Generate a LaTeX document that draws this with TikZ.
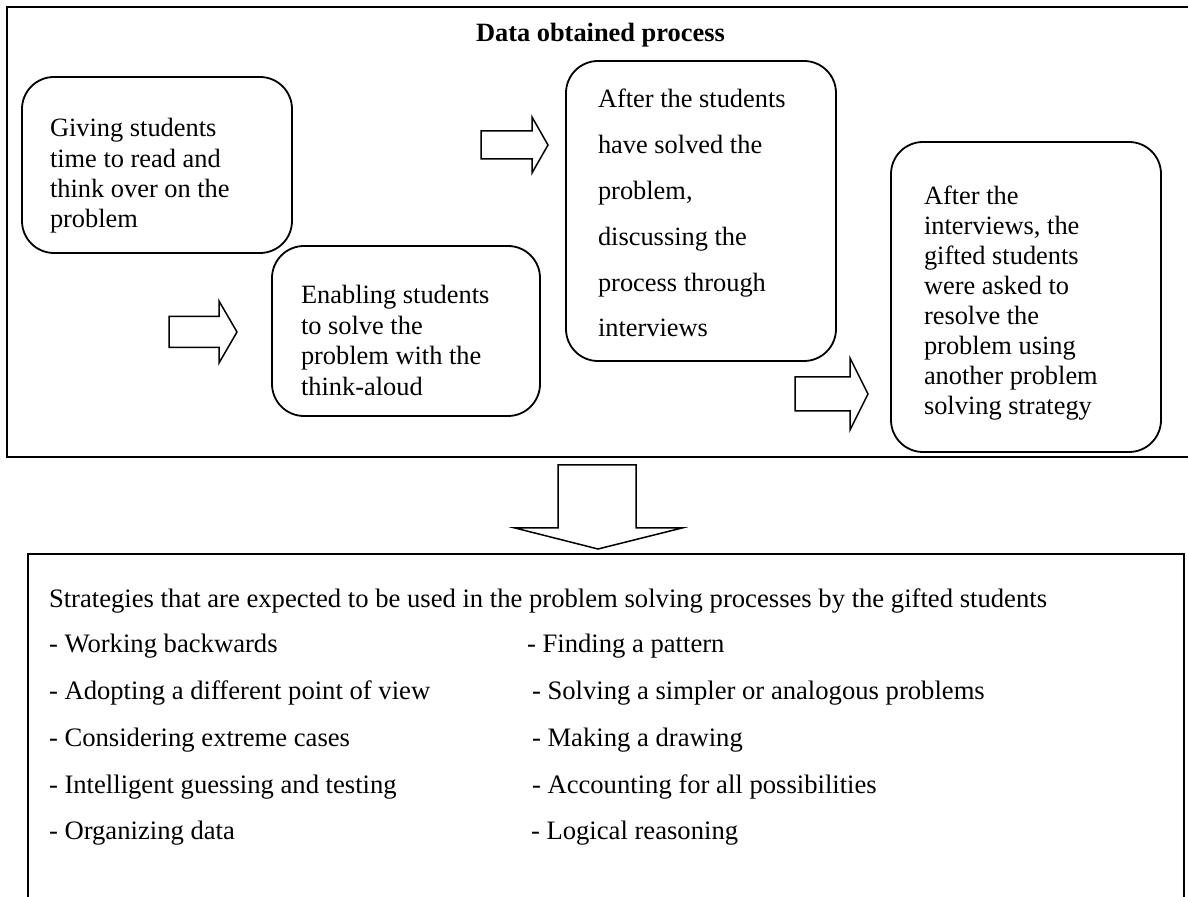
\documentclass[tikz,border=0pt]{standalone}
\usepackage{fontspec}
\setmainfont{Liberation Serif}
\newcommand\myarrowR[6]{% x0, x1 (head base), x2 (tip), yc, half shaft, half head
  \draw[barrow] (#1,{#4-#5}) -- (#2,{#4-#5}) -- (#2,{#4-#6}) -- (#3,#4) -- (#2,{#4+#6}) -- (#2,{#4+#5}) -- (#1,{#4+#5}) -- cycle;}
\newcommand\txtlines[2]{\vtop{\baselineskip=#1\lineskiplimit=-20pt\lineskip=0pt #2}}
\begin{document}
\begin{tikzpicture}[x=0.5pt,y=-0.5pt,
  txt/.style={inner sep=0pt,outer sep=0pt,anchor=base west,font=\fontsize{13.2pt}{15.2pt}\selectfont},
  btxt/.style={txt,font=\fontsize{13.32pt}{15.2pt}\selectfont},
  rbox/.style={draw,line width=0.9pt,rounded corners=16pt,inner sep=0pt},
  barrow/.style={draw,line width=0.75pt,line join=miter},
  frame/.style={draw,line width=1.3pt}]
\useasboundingbox (0,0) rectangle (1188,897);
% outer frame (top)
\draw[frame] (1188,7) -- (7,7) -- (7,457) -- (1188,457);
\node[txt,font=\fontsize{13.2pt}{15.2pt}\selectfont\bfseries] (title) at (476,42) {Data obtained process};
% rounded boxes
\node[rbox,minimum width=135pt,minimum height=88pt] (b1) at (157,165) {};
\node[rbox,minimum width=134pt,minimum height=85pt] (b2) at (406,331) {};
\node[rbox,minimum width=135pt,minimum height=150pt] (b3) at (701,211) {};
\node[rbox,minimum width=135pt,minimum height=155pt] (b4) at (1026,297) {};
% texts
\node[txt] (t1) at (50,137) {\txtlines{15.15pt}{\hbox{Giving students}\hbox{time to read and}\hbox{think over on the}\hbox{problem}}};
\node[txt] (t2) at (301,304) {\txtlines{15.2pt}{\hbox{Enabling students}\hbox{to solve the}\hbox{problem with the}\hbox{think-aloud}}};
\node[txt] (t3) at (598,108) {\txtlines{22.9pt}{\hbox{After the students}\hbox{have solved the}\hbox{problem,}\hbox{discussing the}\hbox{process through}\hbox{interviews}}};
\node[txt] (t4) at (924,205) {\txtlines{15pt}{\hbox{After the}\hbox{interviews, the}\hbox{gifted students}\hbox{were asked to}\hbox{resolve the}\hbox{problem using}\hbox{another problem}\hbox{solving strategy}}};
% block arrows
\myarrowR{169}{219}{237}{332}{15.5}{31}
\myarrowR{481}{532}{548}{145}{14}{28}
\myarrowR{795}{850}{868}{394}{17}{36}
% down arrow
\draw[barrow] (558,465) -- (636,465) -- (636,528) -- (682,528) -- (598,549) -- (515,528) -- (558,528) -- cycle;
% bottom frame
\draw[frame,line width=1pt] (28,897) -- (28,554) -- (1184,554) -- (1184,897);
\node[btxt] (s0) at (49,607) {Strategies that are expected to be used in the problem solving processes by the gifted students};
\node[btxt] (s1) at (49,652) {- Working backwards};
\node[btxt] (s2) at (49,699) {- Adopting a different point of view};
\node[btxt] (s3) at (49,746) {- Considering extreme cases};
\node[btxt] (s4) at (49,793) {- Intelligent guessing and testing};
\node[btxt] (s5) at (49,839) {- Organizing data};
\node[btxt] (r1) at (527,652) {- Finding a pattern};
\node[btxt] (r2) at (532,699) {- Solving a simpler or analogous problems};
\node[btxt] (r3) at (532,746) {- Making a drawing};
\node[btxt] (r4) at (532,793) {- Accounting for all possibilities};
\node[btxt] (r5) at (531,839) {- Logical reasoning};
\end{tikzpicture}
\end{document}
